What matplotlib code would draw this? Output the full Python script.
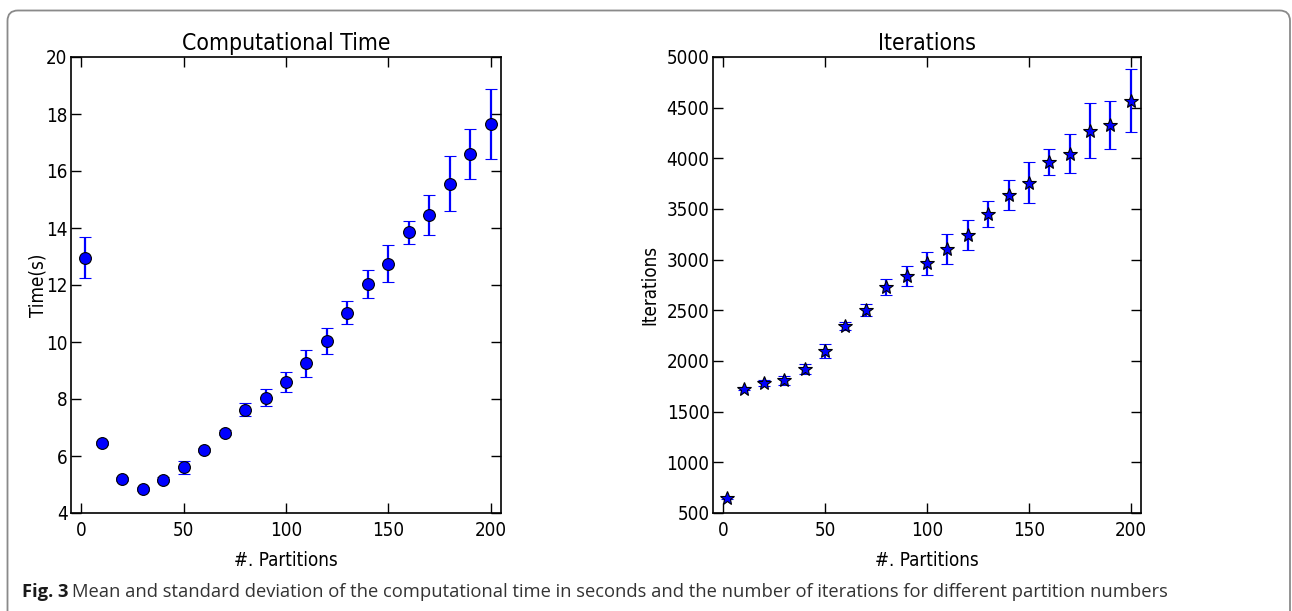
import matplotlib
matplotlib.use("Agg")
import matplotlib.pyplot as plt
from matplotlib.patches import FancyBboxPatch

partitions = [2, 10, 20, 30, 40, 50, 60, 70, 80, 90, 100, 110, 120, 130, 140, 150, 160, 170, 180, 190, 200]
time_mean = [12.96, 6.45, 5.19, 4.84, 5.17, 5.60, 6.20, 6.81, 7.63, 8.05, 8.58, 9.25, 10.04, 11.03, 12.04, 12.75, 13.85, 14.47, 15.56, 16.59, 17.64]
time_std = [0.71, 0.08, 0.08, 0.08, 0.08, 0.23, 0.07, 0.09, 0.22, 0.30, 0.35, 0.47, 0.45, 0.40, 0.49, 0.65, 0.40, 0.70, 0.95, 0.87, 1.22]
iter_mean = [648, 1727, 1783, 1809, 1918, 2102, 2342, 2500, 2727, 2839, 2964, 3109, 3247, 3451, 3641, 3760, 3964, 4046, 4273, 4326, 4569]
iter_std = [12, 15, 25, 43, 50, 70, 40, 58, 80, 100, 112, 147, 147, 124, 150, 200, 125, 190, 273, 237, 314]

xlim = (-5, 205)
time_yticks = [4, 6, 8, 10, 12, 14, 16, 18, 20]
iter_yticks = [500, 1000, 1500, 2000, 2500, 3000, 3500, 4000, 4500, 5000]
xticks = [0, 50, 100, 150, 200]

plt.rcParams['font.family'] = ['DejaVu Sans']
plt.rcParams['font.stretch'] = 'condensed'

W, H = 1292, 611
fig = plt.figure(figsize=(W / 100, H / 100), dpi=100)

# outer rounded frame
frame = FancyBboxPatch((7.5 / W, -20 / H), (1290 - 7.5) / W, (H - 10.5 + 20) / H,
                       boxstyle="round,pad=0,rounding_size=0.008",
                       transform=fig.transFigure, fill=False, edgecolor='#8a8a8a',
                       linewidth=1.3, clip_on=False, mutation_aspect=W / H)
fig.patches.append(frame)

ax1 = fig.add_axes([71 / W, 98 / H, 430 / W, 456 / H])
ax2 = fig.add_axes([713 / W, 98 / H, 428 / W, 456 / H])

tick_fs = 13.5
label_fs = 13.5
for ax in (ax1, ax2):
    ax.set_xlim(*xlim)
    ax.set_xticks(xticks)
    ax.tick_params(direction='in', top=True, right=True, length=7, width=1,
                   labelsize=tick_fs)
    ax.tick_params(axis='y', pad=2.5)
    ax.tick_params(axis='x', pad=6)
    for s in ax.spines.values():
        s.set_linewidth(1.2)
    ax.set_xlabel('#. Partitions', fontsize=label_fs, labelpad=8)

ax1.errorbar(partitions, time_mean, yerr=time_std, fmt='o', color='blue',
             ecolor='blue', markeredgecolor='black', markeredgewidth=0.8,
             markersize=8.5, elinewidth=1.6, capsize=4, capthick=1.6)
ax1.set_ylim(4, 20)
ax1.set_yticks(time_yticks)
ax1.set_ylabel('Time(s)', fontsize=label_fs)
ax1.yaxis.set_label_coords((47 - 71) / 430, 0.5)
ax1.set_title('Computational Time', fontsize=16.5, pad=5)

ax2.errorbar(partitions, iter_mean, yerr=iter_std, fmt='*', color='blue',
             ecolor='blue', markeredgecolor='black', markeredgewidth=0.8,
             markersize=10, elinewidth=1.6, capsize=4, capthick=1.6)
ax2.set_ylim(500, 5000)
ax2.set_yticks(iter_yticks)
ax2.set_ylabel('Iterations', fontsize=label_fs)
ax2.yaxis.set_label_coords((659 - 713) / 428, 0.5)
ax2.set_title('Iterations', fontsize=16.5, pad=5)

# caption
cap_y = 1 - 597 / H
cap_fs = 13.2
t1 = fig.text(22 / W, cap_y, 'Fig. 3', fontsize=cap_fs, fontweight='bold',
              family=['Open Sans', 'DejaVu Sans'], stretch='normal',
              color='#1a1a1a', va='baseline')
fig.canvas.draw()
bb = t1.get_window_extent()
fig.text((bb.x1 + 4) / W, cap_y,
         'Mean and standard deviation of the computational time in seconds and the number of iterations for different partition numbers',
         fontsize=cap_fs, family=['Open Sans', 'DejaVu Sans'], stretch='normal',
         color='#333333', va='baseline')

fig.savefig('out.png', dpi=100)
